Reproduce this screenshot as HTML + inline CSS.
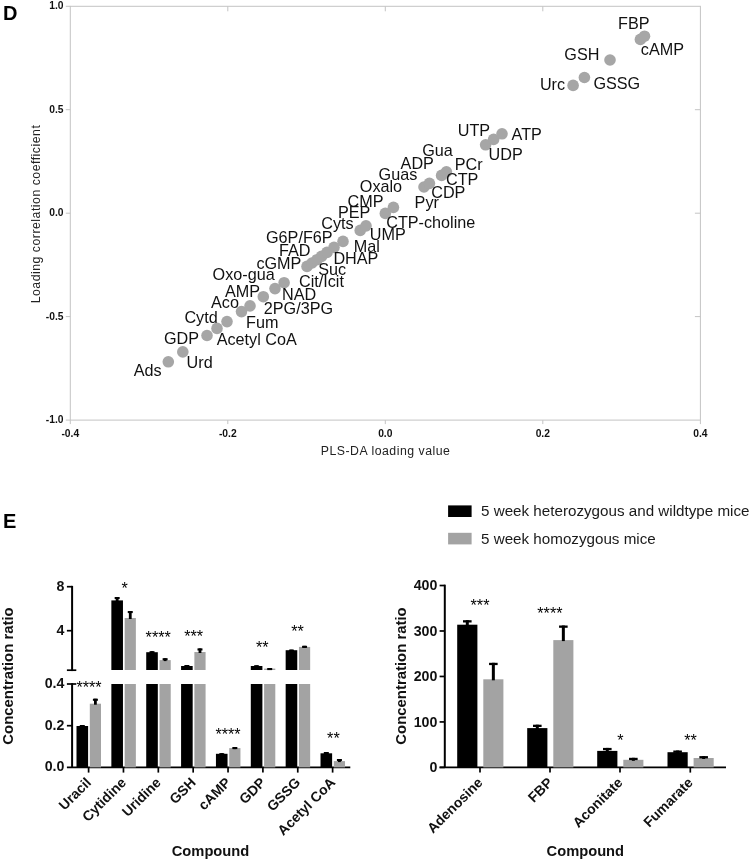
<!DOCTYPE html>
<html><head><meta charset="utf-8"><title>Figure</title>
<style>
html,body{margin:0;padding:0;background:#fff;}
svg{display:block;will-change:transform;font-family:"Liberation Sans",sans-serif;}
.b{font-weight:bold;}
</style></head><body>
<svg width="750" height="860" viewBox="0 0 750 860">
<rect x="0" y="0" width="750" height="860" fill="#fff"/>
<text class="b" x="3" y="19.7" font-size="20" fill="#000">D</text>
<rect x="70.3" y="6.3" width="630.1" height="413.8" fill="none" stroke="#c4c4c4" stroke-width="1"/>
<line x1="227.8" y1="6.3" x2="227.8" y2="11.3" stroke="#c4c4c4" stroke-width="1"/>
<line x1="385.3" y1="6.3" x2="385.3" y2="11.3" stroke="#c4c4c4" stroke-width="1"/>
<line x1="542.8" y1="6.3" x2="542.8" y2="11.3" stroke="#c4c4c4" stroke-width="1"/>
<line x1="70.3" y1="420.1" x2="70.3" y2="424.1" stroke="#c4c4c4" stroke-width="1"/>
<line x1="227.8" y1="420.1" x2="227.8" y2="424.1" stroke="#c4c4c4" stroke-width="1"/>
<line x1="385.3" y1="420.1" x2="385.3" y2="424.1" stroke="#c4c4c4" stroke-width="1"/>
<line x1="542.8" y1="420.1" x2="542.8" y2="424.1" stroke="#c4c4c4" stroke-width="1"/>
<line x1="700.4" y1="420.1" x2="700.4" y2="424.1" stroke="#c4c4c4" stroke-width="1"/>
<line x1="65.8" y1="6.3" x2="70.3" y2="6.3" stroke="#c4c4c4" stroke-width="1"/>
<line x1="65.8" y1="109.7" x2="70.3" y2="109.7" stroke="#c4c4c4" stroke-width="1"/>
<line x1="65.8" y1="213.2" x2="70.3" y2="213.2" stroke="#c4c4c4" stroke-width="1"/>
<line x1="65.8" y1="316.6" x2="70.3" y2="316.6" stroke="#c4c4c4" stroke-width="1"/>
<line x1="65.8" y1="420.1" x2="70.3" y2="420.1" stroke="#c4c4c4" stroke-width="1"/>
<line x1="694.9" y1="109.7" x2="700.4" y2="109.7" stroke="#c4c4c4" stroke-width="1"/>
<line x1="694.9" y1="213.2" x2="700.4" y2="213.2" stroke="#c4c4c4" stroke-width="1"/>
<line x1="694.9" y1="316.6" x2="700.4" y2="316.6" stroke="#c4c4c4" stroke-width="1"/>
<text class="b" x="70.3" y="436.7" font-size="10.3" text-anchor="middle" fill="#111">-0.4</text>
<text class="b" x="227.8" y="436.7" font-size="10.3" text-anchor="middle" fill="#111">-0.2</text>
<text class="b" x="385.3" y="436.7" font-size="10.3" text-anchor="middle" fill="#111">0.0</text>
<text class="b" x="542.8" y="436.7" font-size="10.3" text-anchor="middle" fill="#111">0.2</text>
<text class="b" x="700.4" y="436.7" font-size="10.3" text-anchor="middle" fill="#111">0.4</text>
<text class="b" x="63.5" y="9.3" font-size="10.3" text-anchor="end" fill="#111">1.0</text>
<text class="b" x="63.5" y="112.7" font-size="10.3" text-anchor="end" fill="#111">0.5</text>
<text class="b" x="63.5" y="216.2" font-size="10.3" text-anchor="end" fill="#111">0.0</text>
<text class="b" x="63.5" y="319.6" font-size="10.3" text-anchor="end" fill="#111">-0.5</text>
<text class="b" x="63.5" y="423.1" font-size="10.3" text-anchor="end" fill="#111">-1.0</text>
<text x="385.6" y="454.5" font-size="12.3" letter-spacing="0.5" text-anchor="middle" fill="#222">PLS-DA loading value</text>
<text transform="translate(39.6,214) rotate(-90)" font-size="12.3" letter-spacing="0.5" text-anchor="middle" fill="#222">Loading correlation coefficient</text>
<circle cx="168.3" cy="361.8" r="5.8" fill="#a6a6a6"/>
<circle cx="182.8" cy="351.9" r="5.8" fill="#a6a6a6"/>
<circle cx="207" cy="335.5" r="5.8" fill="#a6a6a6"/>
<circle cx="217" cy="328.4" r="5.8" fill="#a6a6a6"/>
<circle cx="227" cy="321.6" r="5.8" fill="#a6a6a6"/>
<circle cx="241.5" cy="311.6" r="5.8" fill="#a6a6a6"/>
<circle cx="250" cy="305.9" r="5.8" fill="#a6a6a6"/>
<circle cx="263.3" cy="296.7" r="5.8" fill="#a6a6a6"/>
<circle cx="275" cy="288.6" r="5.8" fill="#a6a6a6"/>
<circle cx="284.1" cy="282.7" r="5.8" fill="#a6a6a6"/>
<circle cx="307" cy="266.4" r="5.8" fill="#a6a6a6"/>
<circle cx="312" cy="263.0" r="5.8" fill="#a6a6a6"/>
<circle cx="317" cy="259.7" r="5.8" fill="#a6a6a6"/>
<circle cx="321.5" cy="256.4" r="5.8" fill="#a6a6a6"/>
<circle cx="327" cy="252.4" r="5.8" fill="#a6a6a6"/>
<circle cx="334" cy="247.4" r="5.8" fill="#a6a6a6"/>
<circle cx="343" cy="241.4" r="5.8" fill="#a6a6a6"/>
<circle cx="360.2" cy="230.4" r="5.8" fill="#a6a6a6"/>
<circle cx="366" cy="225.9" r="5.8" fill="#a6a6a6"/>
<circle cx="385.3" cy="213.4" r="5.8" fill="#a6a6a6"/>
<circle cx="393.4" cy="207.4" r="5.8" fill="#a6a6a6"/>
<circle cx="424" cy="187.0" r="5.8" fill="#a6a6a6"/>
<circle cx="429.4" cy="183.4" r="5.8" fill="#a6a6a6"/>
<circle cx="441.6" cy="175.4" r="5.8" fill="#a6a6a6"/>
<circle cx="446.4" cy="171.8" r="5.8" fill="#a6a6a6"/>
<circle cx="485.6" cy="144.8" r="5.8" fill="#a6a6a6"/>
<circle cx="493.6" cy="139.4" r="5.8" fill="#a6a6a6"/>
<circle cx="502" cy="133.8" r="5.8" fill="#a6a6a6"/>
<circle cx="573.1" cy="85.4" r="5.8" fill="#a6a6a6"/>
<circle cx="584.4" cy="77.5" r="5.8" fill="#a6a6a6"/>
<circle cx="610" cy="60.0" r="5.8" fill="#a6a6a6"/>
<circle cx="640.4" cy="39.4" r="5.8" fill="#a6a6a6"/>
<circle cx="644.5" cy="36.2" r="5.8" fill="#a6a6a6"/>
<text x="133.7" y="376.2" font-size="16.2" fill="#111">Ads</text>
<text x="186.6" y="368.3" font-size="16.2" fill="#111">Urd</text>
<text x="164.0" y="343.5" font-size="16.2" fill="#111">GDP</text>
<text x="216.7" y="345.1" font-size="16.2" fill="#111">Acetyl CoA</text>
<text x="184.4" y="322.6" font-size="16.2" fill="#111">Cytd</text>
<text x="246.0" y="327.8" font-size="16.2" fill="#111">Fum</text>
<text x="211.0" y="307.9" font-size="16.2" fill="#111">Aco</text>
<text x="225.0" y="296.8" font-size="16.2" fill="#111">AMP</text>
<text x="263.8" y="314.4" font-size="16.2" fill="#111">2PG/3PG</text>
<text x="282.0" y="300.4" font-size="16.2" fill="#111">NAD</text>
<text x="212.6" y="279.5" font-size="16.2" fill="#111">Oxo-gua</text>
<text x="256.4" y="268.6" font-size="16.2" fill="#111">cGMP</text>
<text x="299.0" y="287.0" font-size="16.2" fill="#111">Cit/Icit</text>
<text x="318.2" y="274.6" font-size="16.2" fill="#111">Suc</text>
<text x="333.4" y="264.2" font-size="16.2" fill="#111">DHAP</text>
<text x="353.8" y="251.6" font-size="16.2" fill="#111">Mal</text>
<text x="279.0" y="256.0" font-size="16.2" fill="#111">FAD</text>
<text x="266.0" y="243.2" font-size="16.2" fill="#111">G6P/F6P</text>
<text x="321.2" y="229.2" font-size="16.2" fill="#111">Cyts</text>
<text x="338.0" y="218.4" font-size="16.2" fill="#111">PEP</text>
<text x="347.6" y="207.2" font-size="16.2" fill="#111">CMP</text>
<text x="369.8" y="240.0" font-size="16.2" fill="#111">UMP</text>
<text x="386.2" y="227.6" font-size="16.2" fill="#111">CTP-choline</text>
<text x="359.8" y="192.0" font-size="16.2" fill="#111">Oxalo</text>
<text x="378.6" y="179.6" font-size="16.2" fill="#111">Guas</text>
<text x="400.6" y="169.0" font-size="16.2" fill="#111">ADP</text>
<text x="422.2" y="155.6" font-size="16.2" fill="#111">Gua</text>
<text x="414.6" y="207.6" font-size="16.2" fill="#111">Pyr</text>
<text x="431.2" y="198.2" font-size="16.2" fill="#111">CDP</text>
<text x="446.0" y="184.6" font-size="16.2" fill="#111">CTP</text>
<text x="454.8" y="170.4" font-size="16.2" fill="#111">PCr</text>
<text x="457.8" y="136.0" font-size="16.2" fill="#111">UTP</text>
<text x="511.6" y="139.6" font-size="16.2" fill="#111">ATP</text>
<text x="488.6" y="160.0" font-size="16.2" fill="#111">UDP</text>
<text x="539.9" y="89.7" font-size="16.2" fill="#111">Urc</text>
<text x="593.4" y="89.0" font-size="16.2" fill="#111">GSSG</text>
<text x="564.3" y="59.8" font-size="16.2" fill="#111">GSH</text>
<text x="618.1" y="28.8" font-size="16.2" fill="#111">FBP</text>
<text x="640.8" y="55.0" font-size="16.2" fill="#111">cAMP</text>
<text class="b" x="3.1" y="527.5" font-size="20" fill="#000">E</text>
<rect x="448.1" y="505.4" width="23.5" height="11.6" fill="#000"/>
<rect x="448.1" y="532.8" width="23.5" height="11.6" fill="#a3a3a3"/>
<text x="481" y="515.8" font-size="15.2" fill="#1a1a1a">5 week heterozygous and wildtype mice</text>
<text x="481" y="544.2" font-size="15.2" fill="#1a1a1a">5 week homozygous mice</text>
<line x1="72.1" y1="585.85" x2="72.1" y2="671.0500000000001" stroke="#000" stroke-width="2.0"/>
<line x1="72.1" y1="683.15" x2="72.1" y2="767.4" stroke="#000" stroke-width="2.0"/>
<line x1="66.89999999999999" y1="586.7" x2="72.1" y2="586.7" stroke="#000" stroke-width="1.7"/>
<line x1="66.89999999999999" y1="630.7" x2="72.1" y2="630.7" stroke="#000" stroke-width="1.7"/>
<line x1="66.89999999999999" y1="670.2" x2="76.3" y2="670.2" stroke="#000" stroke-width="1.7"/>
<line x1="66.89999999999999" y1="684" x2="76.3" y2="684" stroke="#000" stroke-width="1.7"/>
<line x1="66.89999999999999" y1="725.7" x2="72.1" y2="725.7" stroke="#000" stroke-width="1.7"/>
<line x1="66.89999999999999" y1="767.4" x2="350.3" y2="767.4" stroke="#000" stroke-width="1.7"/>
<text class="b" x="64.4" y="590.7" font-size="14.2" text-anchor="end" fill="#111">8</text>
<text class="b" x="64.4" y="634.7" font-size="14.2" text-anchor="end" fill="#111">4</text>
<text class="b" x="64.4" y="688" font-size="14.2" text-anchor="end" fill="#111">0.4</text>
<text class="b" x="64.4" y="729.7" font-size="14.2" text-anchor="end" fill="#111">0.2</text>
<text class="b" x="64.4" y="771.4" font-size="14.2" text-anchor="end" fill="#111">0.0</text>
<line x1="88.6" y1="767.4" x2="88.6" y2="772.6" stroke="#000" stroke-width="1.7"/>
<rect x="76.5" y="726" width="11.599999999999994" height="41.39999999999998" fill="#000"/>
<rect x="89.8" y="703.7" width="11.200000000000003" height="63.69999999999993" fill="#a3a3a3"/>
<line x1="82.3" y1="727" x2="82.3" y2="725" stroke="#000" stroke-width="2.8"/>
<line x1="79.8" y1="726.05" x2="84.8" y2="726.05" stroke="#000" stroke-width="2.1"/>
<line x1="95.4" y1="704.7" x2="95.4" y2="698.7" stroke="#000" stroke-width="2.8"/>
<line x1="92.9" y1="699.75" x2="97.9" y2="699.75" stroke="#000" stroke-width="2.1"/>
<text class="b" transform="translate(92.1,783.4) rotate(-45)" font-size="14.0" text-anchor="end" fill="#111">Uracil</text>
<line x1="123.46" y1="767.4" x2="123.46" y2="772.6" stroke="#000" stroke-width="1.7"/>
<rect x="111.36" y="600.4" width="11.599999999999994" height="69.60000000000002" fill="#000"/>
<rect x="124.66" y="618" width="11.199999999999989" height="52" fill="#a3a3a3"/>
<rect x="111.36" y="684" width="11.599999999999994" height="83.39999999999998" fill="#000"/>
<rect x="124.66" y="684" width="11.199999999999989" height="83.39999999999998" fill="#a3a3a3"/>
<line x1="117.16" y1="601.4" x2="117.16" y2="597" stroke="#000" stroke-width="2.8"/>
<line x1="114.66" y1="598.05" x2="119.66" y2="598.05" stroke="#000" stroke-width="2.1"/>
<line x1="130.26" y1="619" x2="130.26" y2="611" stroke="#000" stroke-width="2.8"/>
<line x1="127.75999999999999" y1="612.05" x2="132.76" y2="612.05" stroke="#000" stroke-width="2.1"/>
<text class="b" transform="translate(126.96,783.4) rotate(-45)" font-size="14.0" text-anchor="end" fill="#111">Cytidine</text>
<line x1="158.32" y1="767.4" x2="158.32" y2="772.6" stroke="#000" stroke-width="1.7"/>
<rect x="146.22" y="652.2" width="11.599999999999994" height="17.799999999999955" fill="#000"/>
<rect x="159.51999999999998" y="660.1" width="11.200000000000017" height="9.899999999999977" fill="#a3a3a3"/>
<rect x="146.22" y="684" width="11.599999999999994" height="83.39999999999998" fill="#000"/>
<rect x="159.51999999999998" y="684" width="11.200000000000017" height="83.39999999999998" fill="#a3a3a3"/>
<line x1="152.01999999999998" y1="653.2" x2="152.01999999999998" y2="651.2" stroke="#000" stroke-width="2.8"/>
<line x1="149.51999999999998" y1="652.25" x2="154.51999999999998" y2="652.25" stroke="#000" stroke-width="2.1"/>
<line x1="165.12" y1="661.1" x2="165.12" y2="658.2" stroke="#000" stroke-width="2.8"/>
<line x1="162.62" y1="659.25" x2="167.62" y2="659.25" stroke="#000" stroke-width="2.1"/>
<text class="b" transform="translate(161.82,783.4) rotate(-45)" font-size="14.0" text-anchor="end" fill="#111">Uridine</text>
<line x1="193.18" y1="767.4" x2="193.18" y2="772.6" stroke="#000" stroke-width="1.7"/>
<rect x="181.08" y="666" width="11.599999999999994" height="4" fill="#000"/>
<rect x="194.38" y="652" width="11.200000000000017" height="18" fill="#a3a3a3"/>
<rect x="181.08" y="684" width="11.599999999999994" height="83.39999999999998" fill="#000"/>
<rect x="194.38" y="684" width="11.200000000000017" height="83.39999999999998" fill="#a3a3a3"/>
<line x1="186.88" y1="667" x2="186.88" y2="665" stroke="#000" stroke-width="2.8"/>
<line x1="184.38" y1="666.05" x2="189.38" y2="666.05" stroke="#000" stroke-width="2.1"/>
<line x1="199.98000000000002" y1="653" x2="199.98000000000002" y2="648.4" stroke="#000" stroke-width="2.8"/>
<line x1="197.48000000000002" y1="649.4499999999999" x2="202.48000000000002" y2="649.4499999999999" stroke="#000" stroke-width="2.1"/>
<text class="b" transform="translate(196.68,783.4) rotate(-45)" font-size="14.0" text-anchor="end" fill="#111">GSH</text>
<line x1="228.04" y1="767.4" x2="228.04" y2="772.6" stroke="#000" stroke-width="1.7"/>
<rect x="215.94" y="753.8" width="11.599999999999994" height="13.600000000000023" fill="#000"/>
<rect x="229.23999999999998" y="748.1" width="11.200000000000017" height="19.299999999999955" fill="#a3a3a3"/>
<line x1="221.74" y1="754.8" x2="221.74" y2="753.2" stroke="#000" stroke-width="2.8"/>
<line x1="219.24" y1="754.25" x2="224.24" y2="754.25" stroke="#000" stroke-width="2.1"/>
<line x1="234.83999999999997" y1="749.1" x2="234.83999999999997" y2="747" stroke="#000" stroke-width="2.8"/>
<line x1="232.33999999999997" y1="748.05" x2="237.33999999999997" y2="748.05" stroke="#000" stroke-width="2.1"/>
<text class="b" transform="translate(231.54,783.4) rotate(-45)" font-size="14.0" text-anchor="end" fill="#111">cAMP</text>
<line x1="262.9" y1="767.4" x2="262.9" y2="772.6" stroke="#000" stroke-width="1.7"/>
<rect x="250.79999999999998" y="666" width="11.599999999999994" height="4" fill="#000"/>
<rect x="264.09999999999997" y="668.6" width="11.199999999999989" height="1.3999999999999773" fill="#a3a3a3"/>
<rect x="250.79999999999998" y="684" width="11.599999999999994" height="83.39999999999998" fill="#000"/>
<rect x="264.09999999999997" y="684" width="11.199999999999989" height="83.39999999999998" fill="#a3a3a3"/>
<line x1="256.59999999999997" y1="667" x2="256.59999999999997" y2="665.3" stroke="#000" stroke-width="2.8"/>
<line x1="254.09999999999997" y1="666.3499999999999" x2="259.09999999999997" y2="666.3499999999999" stroke="#000" stroke-width="2.1"/>
<line x1="269.69999999999993" y1="669.6" x2="269.69999999999993" y2="668" stroke="#000" stroke-width="2.8"/>
<line x1="267.19999999999993" y1="669.05" x2="272.19999999999993" y2="669.05" stroke="#000" stroke-width="2.1"/>
<text class="b" transform="translate(266.4,783.4) rotate(-45)" font-size="14.0" text-anchor="end" fill="#111">GDP</text>
<line x1="297.76" y1="767.4" x2="297.76" y2="772.6" stroke="#000" stroke-width="1.7"/>
<rect x="285.65999999999997" y="650.2" width="11.600000000000023" height="19.799999999999955" fill="#000"/>
<rect x="298.96" y="646.9" width="11.199999999999989" height="23.100000000000023" fill="#a3a3a3"/>
<rect x="285.65999999999997" y="684" width="11.600000000000023" height="83.39999999999998" fill="#000"/>
<rect x="298.96" y="684" width="11.199999999999989" height="83.39999999999998" fill="#a3a3a3"/>
<line x1="291.46" y1="651.2" x2="291.46" y2="649.6" stroke="#000" stroke-width="2.8"/>
<line x1="288.96" y1="650.65" x2="293.96" y2="650.65" stroke="#000" stroke-width="2.1"/>
<line x1="304.55999999999995" y1="647.9" x2="304.55999999999995" y2="645.8" stroke="#000" stroke-width="2.8"/>
<line x1="302.05999999999995" y1="646.8499999999999" x2="307.05999999999995" y2="646.8499999999999" stroke="#000" stroke-width="2.1"/>
<text class="b" transform="translate(301.26,783.4) rotate(-45)" font-size="14.0" text-anchor="end" fill="#111">GSSG</text>
<line x1="332.62" y1="767.4" x2="332.62" y2="772.6" stroke="#000" stroke-width="1.7"/>
<rect x="320.52" y="753.3" width="11.600000000000023" height="14.100000000000023" fill="#000"/>
<rect x="333.82" y="761.1" width="11.199999999999989" height="6.2999999999999545" fill="#a3a3a3"/>
<line x1="326.32" y1="754.3" x2="326.32" y2="752" stroke="#000" stroke-width="2.8"/>
<line x1="323.82" y1="753.05" x2="328.82" y2="753.05" stroke="#000" stroke-width="2.1"/>
<line x1="339.41999999999996" y1="762.1" x2="339.41999999999996" y2="759" stroke="#000" stroke-width="2.8"/>
<line x1="336.91999999999996" y1="760.05" x2="341.91999999999996" y2="760.05" stroke="#000" stroke-width="2.1"/>
<text class="b" transform="translate(336.12,783.4) rotate(-45)" font-size="14.0" text-anchor="end" fill="#111">Acetyl CoA</text>
<text x="89" y="693.4000000000001" font-size="16.2" text-anchor="middle" fill="#000">****</text>
<text x="124.7" y="593.7" font-size="16.2" text-anchor="middle" fill="#000">*</text>
<text x="158.2" y="642.5" font-size="16.2" text-anchor="middle" fill="#000">****</text>
<text x="193.7" y="642.2" font-size="16.2" text-anchor="middle" fill="#000">***</text>
<text x="228" y="740.0" font-size="16.2" text-anchor="middle" fill="#000">****</text>
<text x="262.3" y="653.0" font-size="16.2" text-anchor="middle" fill="#000">**</text>
<text x="297.5" y="636.9000000000001" font-size="16.2" text-anchor="middle" fill="#000">**</text>
<text x="333.4" y="744.2" font-size="16.2" text-anchor="middle" fill="#000">**</text>
<text class="b" transform="translate(13.2,676) rotate(-90)" font-size="14.9" text-anchor="middle" fill="#111">Concentration ratio</text>
<text class="b" x="210.5" y="855.6" font-size="14.7" text-anchor="middle" fill="#111">Compound</text>
<line x1="444.8" y1="584.67" x2="444.8" y2="767.4" stroke="#000" stroke-width="2.0"/>
<line x1="439.6" y1="767.4" x2="726" y2="767.4" stroke="#000" stroke-width="1.7"/>
<line x1="439.6" y1="767.4" x2="444.8" y2="767.4" stroke="#000" stroke-width="1.7"/>
<text class="b" x="437.4" y="772.0" font-size="14.2" text-anchor="end" fill="#111">0</text>
<line x1="439.6" y1="721.93" x2="444.8" y2="721.93" stroke="#000" stroke-width="1.7"/>
<text class="b" x="437.4" y="726.53" font-size="14.2" text-anchor="end" fill="#111">100</text>
<line x1="439.6" y1="676.46" x2="444.8" y2="676.46" stroke="#000" stroke-width="1.7"/>
<text class="b" x="437.4" y="681.0600000000001" font-size="14.2" text-anchor="end" fill="#111">200</text>
<line x1="439.6" y1="630.99" x2="444.8" y2="630.99" stroke="#000" stroke-width="1.7"/>
<text class="b" x="437.4" y="635.59" font-size="14.2" text-anchor="end" fill="#111">300</text>
<line x1="439.6" y1="585.52" x2="444.8" y2="585.52" stroke="#000" stroke-width="1.7"/>
<text class="b" x="437.4" y="590.12" font-size="14.2" text-anchor="end" fill="#111">400</text>
<line x1="480" y1="767.4" x2="480" y2="772.6" stroke="#000" stroke-width="1.7"/>
<rect x="457.2" y="624.7" width="20.19999999999999" height="142.69999999999993" fill="#000"/>
<rect x="483.3" y="679.3" width="20.099999999999966" height="88.10000000000002" fill="#a3a3a3"/>
<line x1="467.29999999999995" y1="625.7" x2="467.29999999999995" y2="620.2" stroke="#000" stroke-width="3.0"/>
<line x1="462.99999999999994" y1="621.35" x2="471.59999999999997" y2="621.35" stroke="#000" stroke-width="2.3"/>
<line x1="493.35" y1="680.3" x2="493.35" y2="662.8" stroke="#000" stroke-width="3.0"/>
<line x1="489.05" y1="663.9499999999999" x2="497.65000000000003" y2="663.9499999999999" stroke="#000" stroke-width="2.3"/>
<text class="b" transform="translate(483.5,783.4) rotate(-45)" font-size="14.0" text-anchor="end" fill="#111">Adenosine</text>
<line x1="550" y1="767.4" x2="550" y2="772.6" stroke="#000" stroke-width="1.7"/>
<rect x="527.2" y="728.1" width="20.199999999999932" height="39.299999999999955" fill="#000"/>
<rect x="553.3" y="640.1" width="20.100000000000023" height="127.29999999999995" fill="#a3a3a3"/>
<line x1="537.3" y1="729.1" x2="537.3" y2="724.7" stroke="#000" stroke-width="3.0"/>
<line x1="533.0" y1="725.85" x2="541.5999999999999" y2="725.85" stroke="#000" stroke-width="2.3"/>
<line x1="563.3499999999999" y1="641.1" x2="563.3499999999999" y2="625.5" stroke="#000" stroke-width="3.0"/>
<line x1="559.05" y1="626.65" x2="567.6499999999999" y2="626.65" stroke="#000" stroke-width="2.3"/>
<text class="b" transform="translate(553.5,783.4) rotate(-45)" font-size="14.0" text-anchor="end" fill="#111">FBP</text>
<line x1="620" y1="767.4" x2="620" y2="772.6" stroke="#000" stroke-width="1.7"/>
<rect x="597.2" y="750.9" width="20.199999999999932" height="16.5" fill="#000"/>
<rect x="623.3" y="759.8" width="20.100000000000023" height="7.600000000000023" fill="#a3a3a3"/>
<line x1="607.3" y1="751.9" x2="607.3" y2="747.9" stroke="#000" stroke-width="3.0"/>
<line x1="603.0" y1="749.05" x2="611.5999999999999" y2="749.05" stroke="#000" stroke-width="2.3"/>
<line x1="633.3499999999999" y1="760.8" x2="633.3499999999999" y2="757.8" stroke="#000" stroke-width="3.0"/>
<line x1="629.05" y1="758.9499999999999" x2="637.6499999999999" y2="758.9499999999999" stroke="#000" stroke-width="2.3"/>
<text class="b" transform="translate(623.5,783.4) rotate(-45)" font-size="14.0" text-anchor="end" fill="#111">Aconitate</text>
<line x1="690.3" y1="767.4" x2="690.3" y2="772.6" stroke="#000" stroke-width="1.7"/>
<rect x="667.5" y="752.2" width="20.199999999999932" height="15.199999999999932" fill="#000"/>
<rect x="693.5999999999999" y="758" width="20.100000000000023" height="9.399999999999977" fill="#a3a3a3"/>
<line x1="677.5999999999999" y1="753.2" x2="677.5999999999999" y2="750.5" stroke="#000" stroke-width="3.0"/>
<line x1="673.3" y1="751.65" x2="681.8999999999999" y2="751.65" stroke="#000" stroke-width="2.3"/>
<line x1="703.6499999999999" y1="759" x2="703.6499999999999" y2="756.1" stroke="#000" stroke-width="3.0"/>
<line x1="699.3499999999999" y1="757.25" x2="707.9499999999998" y2="757.25" stroke="#000" stroke-width="2.3"/>
<text class="b" transform="translate(693.8,783.4) rotate(-45)" font-size="14.0" text-anchor="end" fill="#111">Fumarate</text>
<text x="480" y="610.8000000000001" font-size="16.2" text-anchor="middle" fill="#000">***</text>
<text x="549.9" y="619.4000000000001" font-size="16.2" text-anchor="middle" fill="#000">****</text>
<text x="620.3" y="745.7" font-size="16.2" text-anchor="middle" fill="#000">*</text>
<text x="690.5" y="745.7" font-size="16.2" text-anchor="middle" fill="#000">**</text>
<text class="b" transform="translate(405.6,676) rotate(-90)" font-size="14.9" text-anchor="middle" fill="#111">Concentration ratio</text>
<text class="b" x="585.3" y="855.6" font-size="14.7" text-anchor="middle" fill="#111">Compound</text>
</svg></body></html>
